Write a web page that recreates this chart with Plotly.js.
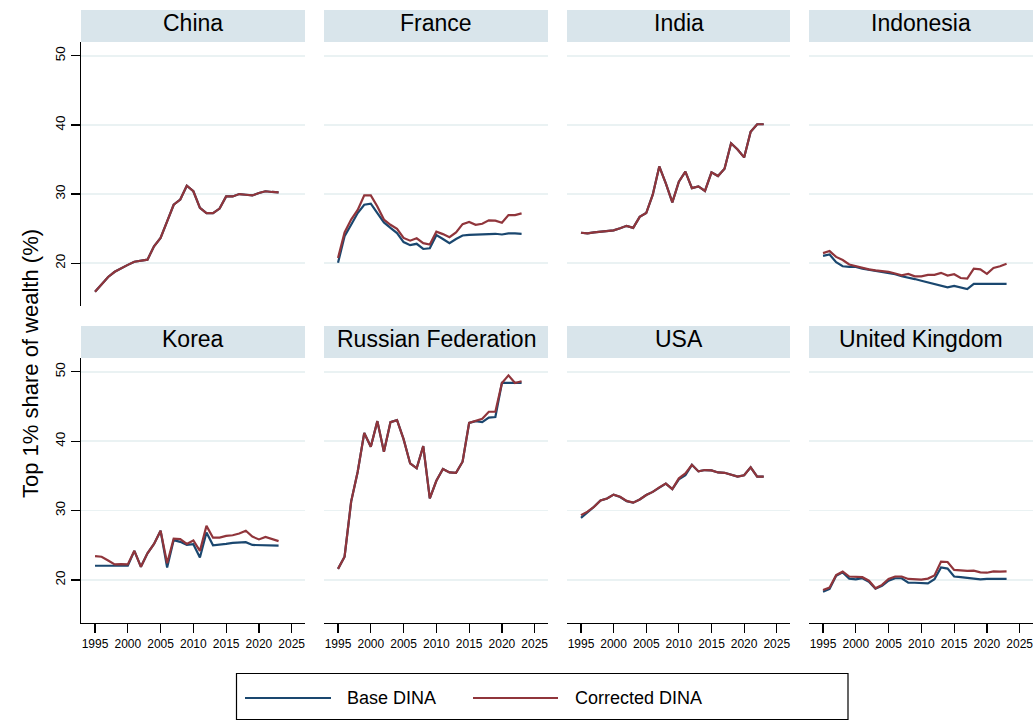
<!DOCTYPE html>
<html><head><meta charset="utf-8">
<script src="https://cdn.plot.ly/plotly-3.0.1.min.js"></script>
<style>body{margin:0;background:#fff}</style>
</head><body><div id="chart" style="width:1035px;height:720px"></div>
<script>
const years = [1995,1996,1997,1998,1999,2000,2001,2002,2003,2004,2005,2006,2007,2008,2009,2010,2011,2012,2013,2014,2015,2016,2017,2018,2019,2020,2021,2022,2023];
const countries = ["China","France","India","Indonesia","Korea","Russian Federation","USA","United Kingdom"];
const seriesNames = ["Base DINA","Corrected DINA"];
const xTickLabels = [1995,2000,2005,2010,2015,2020,2025];
const yTickLabels = [20,30,40,50];

const chinaBase = [15.85,17.0,18.0,18.75,19.3,19.75,20.2,20.4,20.5,22.45,23.65,26.05,28.45,29.2,31.2,30.4,28.0,27.25,27.25,27.9,29.65,29.65,30.0,29.9,29.8,30.15,30.4,30.3,30.25];
const chinaCorr = [15.85,17.0,18.0,18.75,19.3,19.75,20.2,20.4,20.5,22.45,23.65,26.05,28.45,29.2,31.2,30.4,28.0,27.25,27.25,27.9,29.65,29.65,30.0,29.9,29.8,30.15,30.4,30.3,30.25];
const franceBase = [20.05,23.9,25.55,27.25,28.45,28.6,27.25,25.9,25.1,24.35,23.05,22.6,22.8,22.05,22.15,24.05,23.5,22.9,23.5,24.0,24.1,24.15,24.2,24.25,24.25,24.15,24.3,24.3,24.25];
const franceCorr = [20.75,24.45,26.3,27.7,29.8,29.8,28.2,26.3,25.55,24.95,23.65,23.25,23.6,22.9,22.7,24.55,24.2,23.75,24.45,25.65,25.95,25.55,25.7,26.2,26.15,25.85,26.95,26.95,27.2];
const indiaBase = [24.4,24.3,24.45,24.55,24.6,24.75,25.05,25.4,25.1,26.7,27.25,29.9,34.0,31.55,28.8,31.8,33.25,30.85,31.1,30.45,33.15,32.6,33.65,37.35,36.45,35.3,39.0,40.1,40.1];
const indiaCorr = [24.4,24.3,24.45,24.55,24.6,24.75,25.05,25.4,25.1,26.7,27.25,29.9,34.0,31.55,28.8,31.8,33.25,30.85,31.1,30.45,33.15,32.6,33.65,37.35,36.45,35.3,39.0,40.1,40.1];
const indonesiaBase = [21.05,21.25,20.15,19.55,19.45,19.45,19.2,19.05,18.9,18.75,18.6,18.4,18.1,17.95,17.7,17.45,17.2,16.95,16.75,16.5,16.7,16.5,16.25,17.0,17.0,17.0,17.0,17.0,17.0];
const indonesiaCorr = [21.45,21.75,20.9,20.45,19.8,19.55,19.3,19.1,18.95,18.9,18.75,18.5,18.25,18.45,18.1,18.1,18.3,18.3,18.6,18.2,18.4,17.85,17.75,19.2,19.1,18.45,19.3,19.55,19.9];
const koreaBase = [22.05,22.05,22.05,22.05,22.05,22.05,24.2,21.9,23.85,25.2,27.1,21.8,25.75,25.5,25.05,25.15,23.25,26.85,25.0,25.05,25.2,25.35,25.45,25.45,25.05,25.0,24.95,24.95,24.95];
const koreaCorr = [23.45,23.35,22.8,22.25,22.3,22.25,24.2,21.9,23.85,25.2,27.1,22.4,25.95,25.9,25.2,25.7,24.2,27.8,26.1,26.1,26.35,26.45,26.7,27.1,26.25,25.85,26.2,25.95,25.6];
const russiaBase = [21.6,23.35,31.3,35.6,41.2,39.2,42.9,38.5,42.75,43.05,40.3,36.8,36.1,39.3,31.75,34.3,36.0,35.5,35.45,37.05,42.65,42.9,42.75,43.4,43.5,48.4,48.4,48.4,48.4];
const russiaCorr = [21.6,23.35,31.3,35.6,41.2,39.2,42.9,38.5,42.75,43.05,40.3,36.8,36.1,39.3,31.75,34.3,36.0,35.5,35.45,37.05,42.65,42.95,43.25,44.25,44.25,48.4,49.5,48.4,48.65];
const usaBase = [28.95,29.7,30.55,31.45,31.75,32.3,31.95,31.35,31.15,31.6,32.25,32.7,33.35,33.9,33.1,34.5,35.1,36.6,35.65,35.85,35.8,35.5,35.45,35.2,34.9,35.1,36.25,34.9,34.9];
const usaCorr = [29.35,29.85,30.55,31.45,31.75,32.3,32.0,31.4,31.15,31.6,32.25,32.7,33.35,33.9,33.1,34.65,35.35,36.6,35.65,35.85,35.8,35.5,35.45,35.2,34.9,35.1,36.25,34.9,34.9];
const ukBase = [18.3,18.7,20.6,21.1,20.2,20.1,20.25,19.75,18.75,19.15,19.9,20.25,20.25,19.6,19.6,19.5,19.5,20.1,21.8,21.65,20.5,20.4,20.3,20.2,20.1,20.15,20.15,20.15,20.15];
const ukCorr = [18.55,18.9,20.7,21.2,20.5,20.4,20.4,19.9,18.8,19.3,20.15,20.5,20.5,20.15,20.05,20.05,20.2,20.65,22.65,22.6,21.45,21.35,21.3,21.35,21.1,21.05,21.25,21.2,21.25];

const baseSeries = [chinaBase,franceBase,indiaBase,indonesiaBase,koreaBase,russiaBase,usaBase,ukBase];
const corrSeries = [chinaCorr,franceCorr,indiaCorr,indonesiaCorr,koreaCorr,russiaCorr,usaCorr,ukCorr];

const W = 1035, H = 720;
const px = x => x / W, py = y => 1 - y / H;
const colX = [[81,305],[324,548],[567,790],[809,1033]];
const rowY = [[42,306],[358,623]];
const stripY = [[10,42],[326,358]];
const BLUE = '#1a476f', RED = '#90353b';
const FONT = 'Liberation Sans, Arial, sans-serif';
const GRID = '#eaf2f3';

const traces = [];
const layout = {
  width: W, height: H,
  margin: {l:0, r:0, t:0, b:0},
  paper_bgcolor: '#ffffff', plot_bgcolor: '#ffffff',
  showlegend: false,
  font: {family: FONT, color: '#000'},
  shapes: [], annotations: []
};

countries.forEach((name, i) => {
  const r = Math.floor(i / 4), c = i % 4;
  const sfx = i === 0 ? '' : String(i + 1);
  const xa = 'x' + sfx, ya = 'y' + sfx;
  traces.push({x: years, y: baseSeries[i], type: 'scatter', mode: 'lines', name: seriesNames[0],
    line: {color: BLUE, width: 2.2}, xaxis: xa, yaxis: ya, hoverinfo: 'skip'});
  traces.push({x: years, y: corrSeries[i], type: 'scatter', mode: 'lines', name: seriesNames[1],
    line: {color: RED, width: 2.2}, xaxis: xa, yaxis: ya, hoverinfo: 'skip'});
  const bottom = r === 1;
  layout['xaxis' + sfx] = {
    domain: [px(colX[c][0]), px(colX[c][1])], anchor: ya,
    range: [1992.86, 2027.03], showgrid: false, zeroline: false,
    showline: bottom, linecolor: '#000', linewidth: 1.3,
    ticks: bottom ? 'outside' : '', ticklen: 9, tickwidth: 1.2, tickcolor: '#000',
    tickvals: xTickLabels, ticktext: xTickLabels.map(String),
    showticklabels: bottom, tickfont: {size: 12, family: FONT, color: '#000'},
    automargin: false, fixedrange: true
  };
  const first = c === 0;
  layout['yaxis' + sfx] = {
    domain: [py(rowY[r][1]), py(rowY[r][0])], anchor: xa,
    range: [13.8, 52], showgrid: true, gridcolor: GRID, gridwidth: 1.6, zeroline: false,
    showline: first, linecolor: '#000', linewidth: 1.3,
    ticks: first ? 'outside' : '', ticklen: 9, tickwidth: 1.2, tickcolor: '#000',
    tickvals: yTickLabels, ticktext: yTickLabels.map(String),
    showticklabels: first, tickangle: -90, tickfont: {size: 13.5, family: FONT, color: '#000'},
    automargin: false, fixedrange: true
  };
  layout.shapes.push({type: 'rect', xref: 'paper', yref: 'paper',
    x0: px(colX[c][0]), x1: px(colX[c][1]), y0: py(stripY[r][1]), y1: py(stripY[r][0]),
    fillcolor: '#d9e5eb', line: {width: 0}, layer: 'below'});
  layout.annotations.push({xref: 'paper', yref: 'paper', showarrow: false,
    x: px((colX[c][0] + colX[c][1]) / 2), y: py((stripY[r][0] + stripY[r][1]) / 2 - 3),
    xanchor: 'center', yanchor: 'middle', text: name,
    font: {size: 23, family: FONT, color: '#000'}});
});

// y-axis title
layout.annotations.push({xref: 'paper', yref: 'paper', showarrow: false,
  x: px(30), y: py(364), xanchor: 'center', yanchor: 'middle', textangle: -90,
  text: 'Top 1% share of wealth (%)', font: {size: 22, family: FONT, color: '#000'}});

// legend box
layout.shapes.push({type: 'rect', xref: 'paper', yref: 'paper',
  x0: px(236.5), x1: px(848), y0: py(719.5), y1: py(673.5),
  fillcolor: 'rgba(0,0,0,0)', line: {color: '#000', width: 1.2}});
layout.shapes.push({type: 'line', xref: 'paper', yref: 'paper',
  x0: px(245), x1: px(331), y0: py(698), y1: py(698), line: {color: BLUE, width: 2.2}});
layout.shapes.push({type: 'line', xref: 'paper', yref: 'paper',
  x0: px(473), x1: px(558), y0: py(698), y1: py(698), line: {color: RED, width: 2.2}});
layout.annotations.push({xref: 'paper', yref: 'paper', showarrow: false,
  x: px(345), y: py(698), xanchor: 'left', yanchor: 'middle', text: seriesNames[0],
  font: {size: 18, family: FONT, color: '#000'}});
layout.annotations.push({xref: 'paper', yref: 'paper', showarrow: false,
  x: px(573), y: py(698), xanchor: 'left', yanchor: 'middle', text: seriesNames[1],
  font: {size: 18, family: FONT, color: '#000'}});

Plotly.newPlot('chart', traces, layout, {staticPlot: true, displayModeBar: false});
</script>
</body></html>
